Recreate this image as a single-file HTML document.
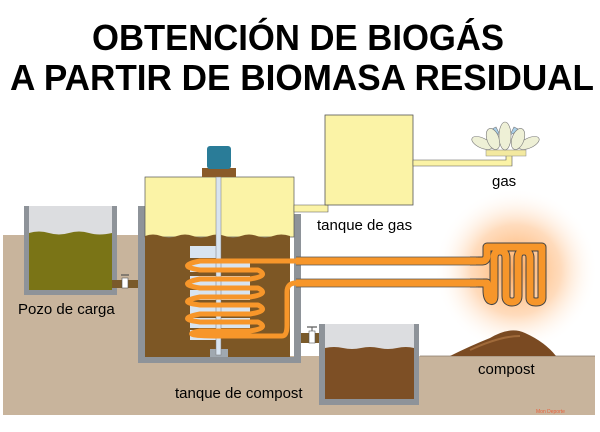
<!DOCTYPE html>
<html><head><meta charset="utf-8"><style>
html,body{margin:0;padding:0;background:#fff;width:600px;height:432px;overflow:hidden}
svg{display:block}
text{font-family:"Liberation Sans",sans-serif}
</style></head><body>
<svg width="600" height="432" viewBox="0 0 600 432" xmlns="http://www.w3.org/2000/svg">
<defs>
<radialGradient id="glow" cx="0.5" cy="0.5" r="0.5">
<stop offset="0" stop-color="#ff9a3c" stop-opacity="0.85"/>
<stop offset="0.55" stop-color="#ffb87a" stop-opacity="0.5"/>
<stop offset="1" stop-color="#ffffff" stop-opacity="0"/>
</radialGradient>
</defs>
<text x="298" y="50" text-anchor="middle" font-size="36" font-weight="bold" textLength="412" lengthAdjust="spacingAndGlyphs">OBTENCIÓN DE BIOGÁS</text>
<text x="302" y="90" text-anchor="middle" font-size="36" font-weight="bold" textLength="584" lengthAdjust="spacingAndGlyphs">A PARTIR DE BIOMASA RESIDUAL</text>

<!-- ground -->
<path d="M3 235 H140 V356 H595 V415 H3 Z" fill="#c8b49c"/>
<line x1="420" y1="356" x2="595" y2="356" stroke="#8a7a6a" stroke-width="0.8"/>

<!-- glow -->
<circle cx="516" cy="270" r="82" fill="url(#glow)"/>

<!-- Pozo de carga -->
<rect x="24" y="206" width="93" height="89" fill="#8e9399"/>
<rect x="29" y="206" width="83" height="84" fill="#dcdde0"/>
<path d="M29 233 q10 -3 20 0 t20 0 t20 0 t23 0 V290 H29 Z" fill="#7a7416"/>
<rect x="112" y="280" width="30" height="8" fill="#7a5a2a"/>
<rect x="122" y="278" width="6" height="10" fill="#fff" stroke="#555" stroke-width="0.6"/>
<line x1="121" y1="275" x2="129" y2="275" stroke="#555" stroke-width="1.2"/>

<!-- digester -->
<rect x="138" y="206" width="7" height="157" fill="#8e9399"/>
<rect x="294" y="214" width="7" height="149" fill="#8e9399"/>
<rect x="138" y="357" width="163" height="6" fill="#8e9399"/>
<rect x="145" y="177" width="149" height="60" fill="#fbf3a6" stroke="#555" stroke-width="0.7"/>
<path d="M145 236 q8 -3 16 0 t16 0 t16 0 t16 0 t16 0 t16 0 t16 0 t16 0 t17 0 V357 H145 Z" fill="#7d5725"/>
<rect x="202" y="168" width="34" height="9" fill="#8a5a28"/>
<rect x="207" y="146" width="24" height="23" rx="3" fill="#2a7c98"/>
<!-- paddles -->
<g fill="#d8e4f0">
<rect x="190" y="246" width="28" height="12"/>
<rect x="190" y="262" width="60" height="10"/>
<rect x="190" y="276" width="60" height="10"/>
<rect x="190" y="290" width="60" height="10"/>
<rect x="190" y="304" width="60" height="10"/>
<rect x="190" y="318" width="60" height="10"/>
<rect x="190" y="330" width="28" height="10"/>
<rect x="210" y="349" width="18" height="8" fill="#a0a8b0"/>
</g>
<rect x="216" y="177" width="5" height="178" fill="#d8e4f0" stroke="#777" stroke-width="0.5"/>
<!-- coil -->
<g fill="none" stroke-linecap="round" stroke-linejoin="round">
<path id="coil" d="M482 261 H200 Q175 266 200 270 H258 Q270 276 250 279 H200 Q175 284 200 288 H258 Q270 294 250 297 H200 Q175 302 200 305 H258 Q270 311 250 314 H200 Q175 319 200 322 H258 Q270 328 250 331 H200 Q175 336 225 336 H282 Q287 336 287 325 V292 Q287 283 296 283 H482" stroke="#f7962a" stroke-width="5"/>
</g>
<!-- pipe to compost tank -->
<rect x="301" y="333" width="20" height="10" fill="#7a5a2a"/>
<rect x="309" y="331" width="6" height="12" fill="#fff" stroke="#555" stroke-width="0.6"/>
<line x1="307" y1="327" x2="317" y2="327" stroke="#555" stroke-width="1.2"/>
<line x1="312" y1="327" x2="312" y2="331" stroke="#555" stroke-width="1"/>

<!-- gas pipe & tank -->
<path d="M294 205 H328 V212 H294 Z" fill="#fbf3a6" stroke="#555" stroke-width="0.6"/>
<rect x="325" y="115" width="88" height="90" fill="#fbf3a6" stroke="#555" stroke-width="0.8"/>
<path d="M413 160 H506 V152 H512 V166 H413 Z" fill="#fbf3a6" stroke="#555" stroke-width="0.6"/>
<!-- burner -->
<rect x="486" y="150" width="40" height="6" fill="#f3e9a0" stroke="#888" stroke-width="0.5"/>
<g fill="#eef0d6" stroke="#777" stroke-width="0.6">
<path d="M490 130 l6 -3 l4 8 z" fill="#a9cfe8"/>
<path d="M520 130 l-6 -3 l-4 8 z" fill="#a9cfe8"/>
<ellipse cx="482" cy="143" rx="11" ry="5" transform="rotate(25 482 143)"/>
<ellipse cx="529" cy="143" rx="11" ry="5" transform="rotate(-25 529 143)"/>
<ellipse cx="493" cy="139" rx="6" ry="11" transform="rotate(-20 493 139)"/>
<ellipse cx="518" cy="139" rx="6" ry="11" transform="rotate(20 518 139)"/>
<ellipse cx="505" cy="136" rx="6" ry="14"/>
</g>

<!-- heater serpentine -->
<g fill="none" stroke-linejoin="round">
<path id="serp" d="M470 261 H482 Q487 261 487 255 V247 H542 V298 Q542 302 536 302 Q530 302 530 298 V258 Q530 251 524 251 Q518 251 518 258 V296 Q518 302 512 302 Q506 302 506 296 V258 Q506 251 500 251 Q494 251 494 258 V296 Q494 302 490 300 Q487 298 487 290 V283 H470" stroke="#444" stroke-width="9"/>
<path d="M470 261 H482 Q487 261 487 255 V247 H542 V298 Q542 302 536 302 Q530 302 530 298 V258 Q530 251 524 251 Q518 251 518 258 V296 Q518 302 512 302 Q506 302 506 296 V258 Q506 251 500 251 Q494 251 494 258 V296 Q494 302 490 300 Q487 298 487 290 V283 H470" stroke="#f7962a" stroke-width="7"/>
</g>
<rect x="296" y="257" width="180" height="8" fill="#f7962a"/>
<line x1="296" y1="257" x2="478" y2="257" stroke="#555" stroke-width="0.7"/>
<line x1="296" y1="265" x2="483" y2="265" stroke="#555" stroke-width="0.7"/>
<rect x="296" y="279" width="180" height="8" fill="#f7962a"/>
<line x1="296" y1="279" x2="483" y2="279" stroke="#555" stroke-width="0.7"/>
<line x1="296" y1="287" x2="478" y2="287" stroke="#555" stroke-width="0.7"/>

<!-- compost tank -->
<rect x="319" y="324" width="100" height="81" fill="#8e9399"/>
<rect x="325" y="324" width="89" height="75" fill="#dcdde0"/>
<path d="M325 348 q9 -2 18 0 t18 0 t18 0 t18 0 t17 0 V399 H325 Z" fill="#7d4f25"/>
<!-- compost pile -->
<path d="M450 356 Q470 346 490 338 Q510 326 525 333 Q545 342 556 356 Z" fill="#7a4a22"/>
<path d="M470 350 Q500 336 520 336" stroke="#a06a3a" stroke-width="2" fill="none"/>

<!-- labels -->
<text x="18" y="314" font-size="15">Pozo de carga</text>
<text x="175" y="398" font-size="15">tanque de compost</text>
<text x="317" y="230" font-size="15">tanque de gas</text>
<text x="492" y="186" font-size="15">gas</text>
<text x="478" y="374" font-size="15">compost</text>
<text x="536" y="413" font-size="5" fill="#e8603a">Mon Deporte</text>
</svg>
</body></html>
